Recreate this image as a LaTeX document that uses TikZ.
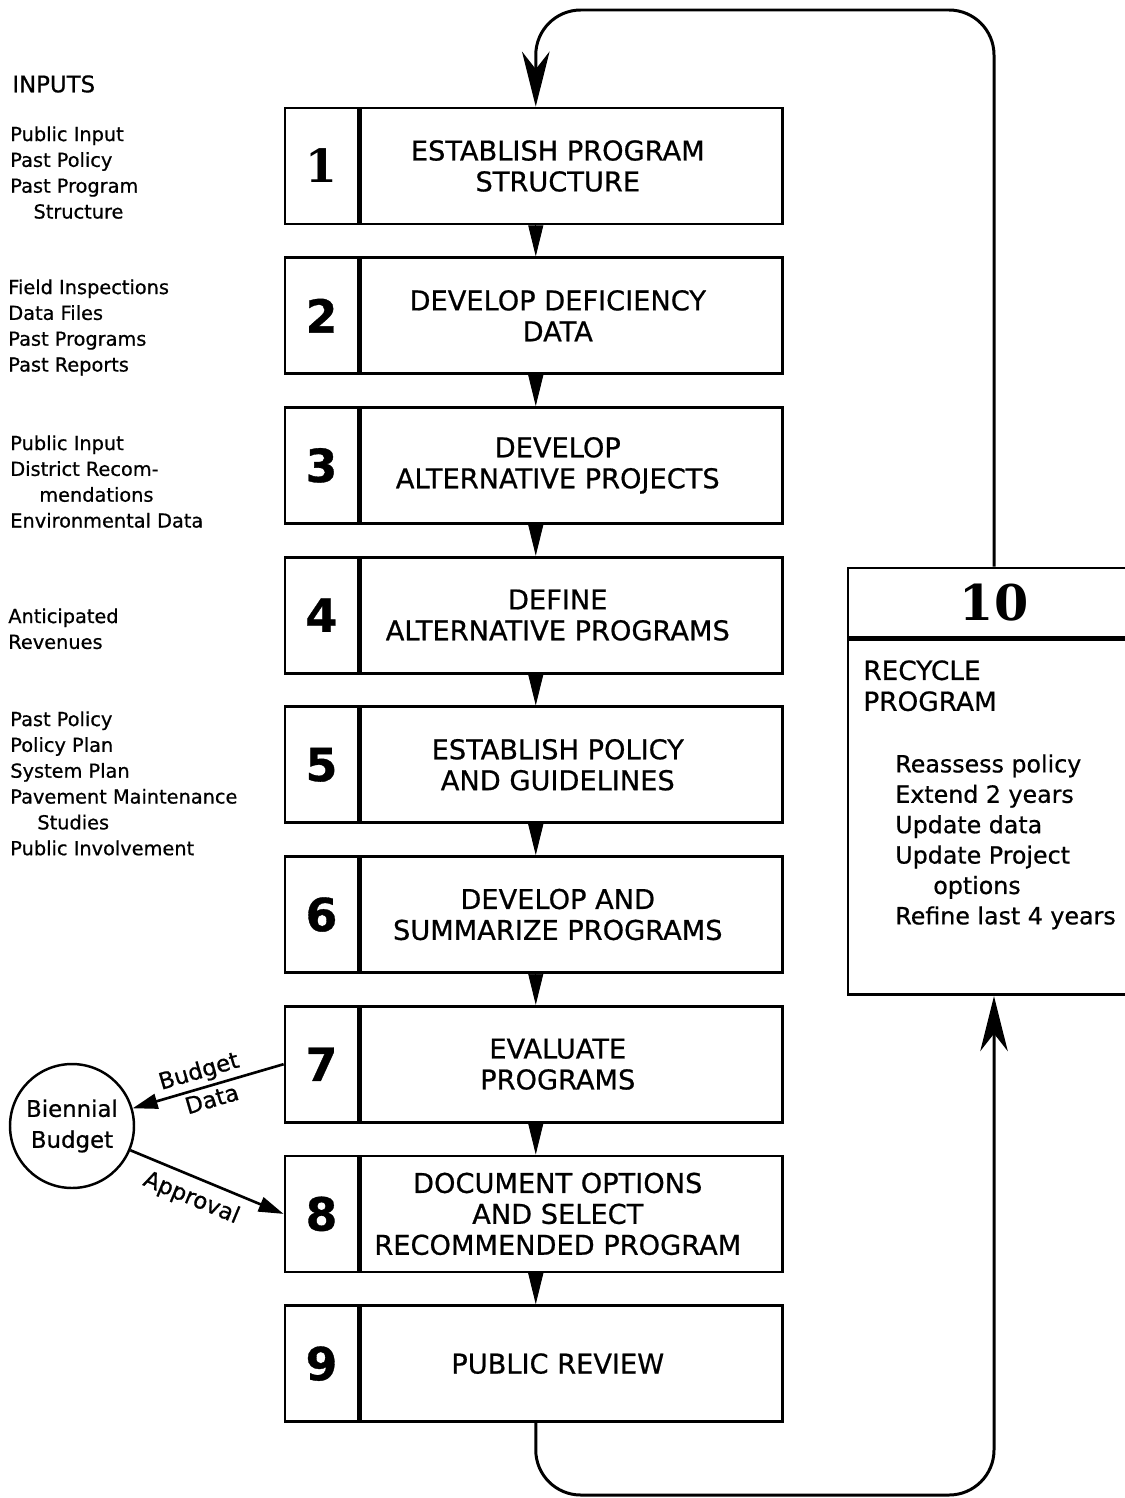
\documentclass[tikz,border=0pt]{standalone}
\usepackage{fontspec}
\setmainfont{DejaVu Sans}[FakeBold=0.7]
\newfontfamily\numserif{DejaVu Serif}
\usetikzlibrary{arrows.meta}

\tikzset{
  numcell/.style={draw, line width=1.6pt, minimum width=1.46cm, minimum height=2.32cm,
    inner sep=0pt, font=\bfseries\fontsize{26}{26}\selectfont},
  stepcell/.style={draw, line width=1.6pt, minimum width=8.44cm, minimum height=2.32cm,
    inner sep=0pt},
  steptext/.style={align=center, inner sep=0pt, xshift=-0.28cm,
    font=\fontsize{15.5}{17.6}\selectfont},
  inputtext/.style={anchor=north west, inner sep=0pt, align=left,
    font=\fontsize{11}{14.7}\selectfont},
  wedge/.style={-{Triangle[length=0.62cm, width=0.3cm]}, line width=0.5pt},
  loopline/.style={line width=1.7pt, rounded corners=0.9cm,
    -{Stealth[length=1.1cm, width=0.55cm, inset=0.35cm]}},
  budgetline/.style={line width=1.5pt},
  budgettext/.style={font=\fontsize{13}{15}\selectfont, inner sep=2pt},
}

\begin{document}
\begin{tikzpicture}[x=0.02cm, y=-0.02cm]
\useasboundingbox (0,0) rectangle (1125,1498);

% inputs
\node[inputtext, font=\fontsize{13}{15}\selectfont] (inputs) at (12,75) {INPUTS};
\node[inputtext] (in1) at (10,126) {Public Input\\Past Policy\\Past Program\\\hspace*{1.2em}Structure};
\node[inputtext] (in2) at (8,279) {Field Inspections\\Data Files\\Past Programs\\Past Reports};
\node[inputtext] (in3) at (10,435) {Public Input\\District Recom-\\\hspace*{1.5em}mendations\\Environmental Data};
\node[inputtext] (in4) at (8,608) {Anticipated\\Revenues};
\node[inputtext] (in5) at (10,711) {Past Policy\\Policy Plan\\System Plan\\Pavement Maintenance\\\hspace*{1.4em}Studies\\Public Involvement};

% steps 1 to 9
\foreach \i/\lbl/\txt in {1/{\numserif 1}/{ESTABLISH PROGRAM\\STRUCTURE},
    2/2/{DEVELOP DEFICIENCY\\DATA},
    3/3/{DEVELOP\\ALTERNATIVE PROJECTS},
    4/4/{DEFINE\\ALTERNATIVE PROGRAMS},
    5/5/{ESTABLISH POLICY\\AND GUIDELINES},
    6/6/{DEVELOP AND\\SUMMARIZE PROGRAMS},
    7/7/{EVALUATE\\PROGRAMS},
    8/8/{DOCUMENT OPTIONS\\AND SELECT\\RECOMMENDED PROGRAM},
    9/9/{PUBLIC REVIEW}}
{
  \node[numcell] (n\i) at (321.5, {166+149.7*(\i-1)}) {\lbl};
  \node[stepcell, anchor=west, label={[steptext]center:\txt}] (s\i) at (n\i.east) {};
}
\foreach \i [evaluate=\i as \j using int(\i+1)] in {1,...,8}
  \draw[wedge] ([xshift=-0.72cm]s\i.south) -- ([xshift=-0.72cm]s\j.north);

% step 10
\node[draw, line width=1.6pt, minimum width=5.84cm, minimum height=1.38cm, inner sep=0pt,
  font=\numserif\bfseries\fontsize{28}{28}\selectfont] (hdr10) at (994,602.5) {10};
\node[draw, line width=1.6pt, minimum width=5.84cm, minimum height=7.1cm, inner sep=0pt,
  anchor=north] (body10) at (hdr10.south) {};
\node[anchor=north west, inner sep=0pt, align=left, font=\fontsize{15}{17.6}\selectfont]
  (rtitle) at (863,660) {RECYCLE\\PROGRAM};
\node[anchor=north west, inner sep=0pt, align=left, font=\fontsize{13.5}{17.3}\selectfont]
  (rlist) at (895,754) {Reassess policy\\Extend 2 years\\Update data\\Update Project\\\hspace*{1.6em}options\\Refine last 4 years};

% budget
\node[draw, circle, line width=1.4pt, minimum size=2.48cm, inner sep=0pt, align=center,
  font=\fontsize{13}{17.6}\selectfont] (bud) at (72,1126) {Biennial\\Budget};
\draw[budgetline, {Triangle[length=0.5cm, width=0.3cm]}-] (bud) -- (n7.west)
  node[budgettext, pos=0.47, above, sloped] {Budget}
  node[budgettext, pos=0.5, below, sloped] {Data};
\draw[budgetline, -{Triangle[length=0.5cm, width=0.3cm]}] (bud) -- (n8.west)
  node[budgettext, pos=0.45, below=3pt, sloped] {Approval};

% recycle loop
\coordinate (topturn) at (760,10);
\coordinate (botturn) at (760,1495);
\draw[loopline] (hdr10.north) |- (topturn) -| ([xshift=-0.72cm]s1.north);
\draw[loopline] ([xshift=-0.72cm]s9.south) |- (botturn) -| (body10.south);
\end{tikzpicture}
\end{document}
